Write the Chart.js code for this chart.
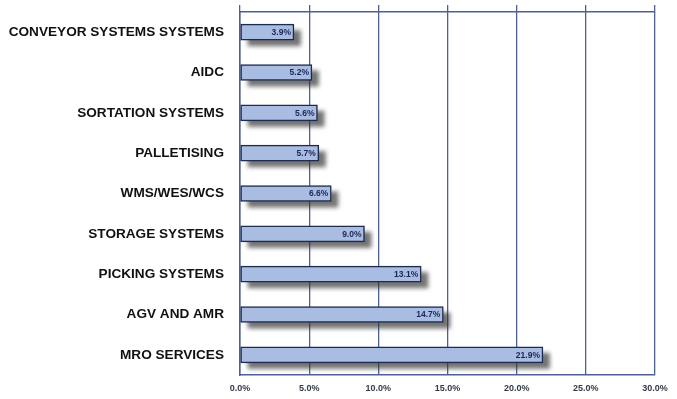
<!DOCTYPE html>
<html>
<head>
<meta charset="utf-8">
<script src="https://cdn.jsdelivr.net/npm/chart.js@4/dist/chart.umd.min.js"></script>
<style>
html,body{margin:0;padding:0;background:#fff;}
#wrap{width:677px;height:399px;position:relative;}
canvas{display:block;}
</style>
</head>
<body>
<div id="wrap"><canvas id="c" width="677" height="399"></canvas></div>
<script>
const categories = ['CONVEYOR SYSTEMS SYSTEMS','AIDC','SORTATION SYSTEMS','PALLETISING','WMS/WES/WCS','STORAGE SYSTEMS','PICKING SYSTEMS','AGV AND AMR','MRO SERVICES'];
const shares = [3.9, 5.2, 5.6, 5.7, 6.6, 9.0, 13.1, 14.7, 21.9];
const xTickLabels = ['0.0%','5.0%','10.0%','15.0%','20.0%','25.0%','30.0%'];

const gridColor = '#4d6193';

const shadowPlugin = {
  id: 'barShadow',
  beforeDatasetsDraw(chart) {
    const ctx = chart.ctx;
    const meta = chart.getDatasetMeta(0);
    ctx.save();
    ctx.filter = 'blur(2px)';
    ctx.fillStyle = 'rgba(50,50,50,0.68)';
    meta.data.forEach(bar => {
      const left = Math.min(bar.base, bar.x);
      const w = Math.abs(bar.x - bar.base);
      const h = bar.height;
      ctx.fillRect(left + 7, bar.y - h / 2 + 6, w, h);
    });
    ctx.restore();
  }
};

const labelPlugin = {
  id: 'barLabels',
  afterDatasetsDraw(chart) {
    const ctx = chart.ctx;
    const meta = chart.getDatasetMeta(0);
    ctx.save();
    ctx.font = 'bold 8.5px "Liberation Sans", Arial, sans-serif';
    ctx.fillStyle = '#1a2756';
    ctx.textAlign = 'right';
    ctx.textBaseline = 'middle';
    meta.data.forEach((bar, i) => {
      ctx.fillText(shares[i].toFixed(1) + '%', bar.x - 3, bar.y + 0.5);
    });
    ctx.restore();
  }
};

function barFill(context) {
  const el = context.element;
  if (!el || el.height === undefined || isNaN(el.y)) return '#a9bce1';
  const g = context.chart.ctx.createLinearGradient(0, el.y - el.height / 2, 0, el.y + el.height / 2);
  g.addColorStop(0, '#bccbea');
  g.addColorStop(1, '#9cb1da');
  return g;
}

new Chart(document.getElementById('c'), {
  type: 'bar',
  data: {
    labels: categories,
    datasets: [{
      data: shares,
      backgroundColor: barFill,
      borderColor: '#1f2b4d',
      borderWidth: 1.5,
      borderSkipped: false,
      barThickness: 16
    }]
  },
  options: {
    indexAxis: 'y',
    responsive: false,
    animation: false,
    devicePixelRatio: 1,
    layout: { padding: { left: 0, right: 22, top: 0, bottom: 0 } },
    plugins: { legend: { display: false }, tooltip: { enabled: false } },
    scales: {
      x: {
        min: 0, max: 30,
        position: 'bottom',
        ticks: {
          stepSize: 5,
          padding: 8,
          maxRotation: 0,
          color: '#333a4a',
          font: { family: '"Liberation Sans", Arial, sans-serif', size: 9, weight: 'bold' },
          callback: (v, i) => xTickLabels[i]
        },
        grid: { color: gridColor, lineWidth: 1.3, drawTicks: false },
        border: { display: true, color: gridColor, width: 1.5 },
        afterFit: s => { s.height = 24; }
      },
      x2: {
        min: 0, max: 30,
        position: 'top',
        ticks: { display: false, stepSize: 5 },
        grid: { display: true, drawOnChartArea: false, drawTicks: true, tickLength: 7, color: gridColor, lineWidth: 1.3 },
        border: { display: true, color: gridColor, width: 1.5 },
        afterFit: s => { s.height = 12; }
      },
      y: {
        ticks: {
          padding: 16,
          autoSkip: false,
          color: '#111',
          font: { family: '"Liberation Sans", Arial, sans-serif', size: 13.6, weight: 'bold' }
        },
        grid: { display: false, drawTicks: false },
        border: { display: true, color: gridColor, width: 1.5 },
        afterFit: s => { s.width = 240; s.paddingTop = 0; s.paddingBottom = 0; }
      }
    }
  },
  plugins: [shadowPlugin, labelPlugin]
});
</script>
</body>
</html>
